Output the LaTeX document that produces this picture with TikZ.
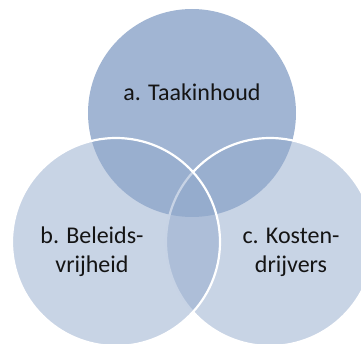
\documentclass[tikz,border=0pt]{standalone}
\usepackage{fontspec}
\setmainfont{Carlito}
\definecolor{topc}{RGB}{161,181,211}
\definecolor{botc}{RGB}{147,170,204}
\definecolor{txt}{RGB}{20,20,20}
\tikzset{
  venn/.style={circle, minimum size=208pt, inner sep=0pt, outer sep=0pt},
  topcircle/.style={venn, fill=topc},
  botcircle/.style={venn, fill=botc, fill opacity=0.51, draw=white, line width=2.2pt},
  lbl/.style={text=txt, align=center, font=\fontsize{24}{29}\selectfont, inner sep=0pt}
}
\begin{document}
\begin{tikzpicture}[x=1pt,y=-1pt]
\useasboundingbox (0,0) rectangle (361,344);
\clip (0,0) rectangle (361,344);
\node[topcircle] (A) at (192,113) {};
\node[botcircle] (C) at (270,242) {};
\node[botcircle] (B) at (116,242) {};
\node[lbl] (ta) at (192,92) {a. Taakinhoud};
\node[lbl] (tb) at (92,252) {b. Beleids-\\vrijheid};
\node[lbl] (tc) at (291,252) {c. Kosten-\\drijvers};
\end{tikzpicture}
\end{document}
